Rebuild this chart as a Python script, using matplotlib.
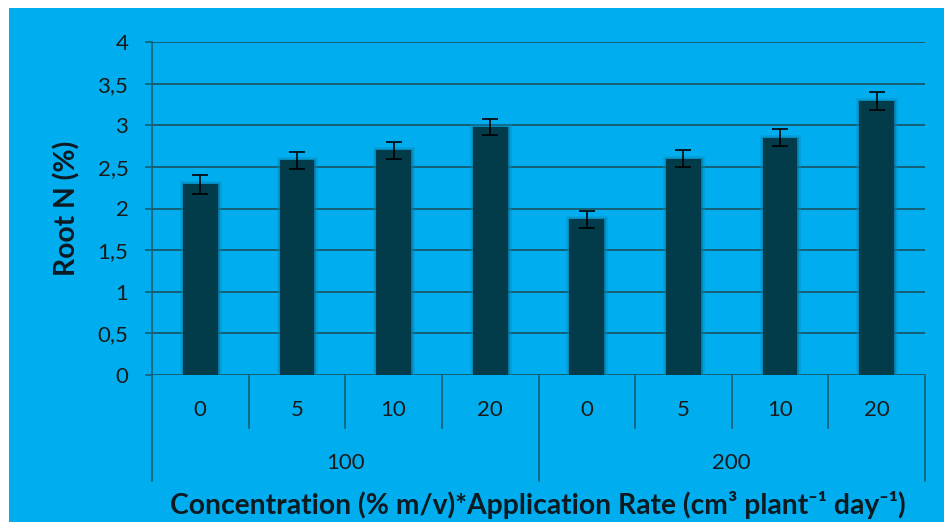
import matplotlib
matplotlib.use("Agg")
import matplotlib.pyplot as plt
import matplotlib.patheffects as pe
import matplotlib.transforms as mtransforms
import numpy as np

groups = ["100", "200"]
rates = ["0", "5", "10", "20"]
values = [2.29, 2.58, 2.70, 2.98, 1.87, 2.60, 2.85, 3.29]
errors = [0.11, 0.10, 0.10, 0.10, 0.10, 0.10, 0.10, 0.11]
ytick_vals = [0, 0.5, 1, 1.5, 2, 2.5, 3, 3.5, 4]
ytick_labels = ["0", "0,5", "1", "1,5", "2", "2,5", "3", "3,5", "4"]
ylabel = "Root N (%)"
xlabel = "Concentration (% m/v)*Application Rate (cm³ plant⁻¹ day⁻¹)"

BLUE = "#00AEEF"
BAR = "#023C4B"
GRID = "#145E74"
TEXT = "#1A1A1A"
FONT = ["Lato", "DejaVu Sans"]
TICK_FS = 16
LABEL_FS = 20.3

plt.rcParams["font.family"] = FONT

fig = plt.figure(figsize=(9.44, 5.22), dpi=100)
fig.patch.set_facecolor("white")
fig.patches.append(plt.Rectangle((9 / 944, 0), 1, 1 - 8 / 522, transform=fig.transFigure,
                                 facecolor=BLUE, edgecolor="none", zorder=-10))

ax = fig.add_axes([152 / 944, 1 - 375 / 522, (925 - 152) / 944, (375 - 42) / 522])
ax.set_facecolor("none")
ax.set_zorder(5)

n = len(values)
x = np.arange(n)
bars = ax.bar(x, values, width=0.36, color=BAR, zorder=3)
for b in bars:
    b.set_path_effects([pe.Stroke(linewidth=5, foreground="#0A8CBE", alpha=0.35),
                        pe.Stroke(linewidth=2.5, foreground="#06739C", alpha=0.5),
                        pe.Normal()])
ax.errorbar(x, values, yerr=errors, fmt="none", ecolor="black", elinewidth=1.2,
            capsize=5.5, capthick=1.2, zorder=4)

ax.set_xlim(-0.5, n - 0.5)
ax.set_ylim(0, 4)
ax.set_yticks(ytick_vals)
ax.set_yticklabels(ytick_labels, fontsize=TICK_FS, color=TEXT)
ax.tick_params(axis="y", length=5, width=1.2, color=GRID, pad=12)
ax.set_xticks([])
ax.yaxis.grid(True, color=GRID, linewidth=1.4, zorder=1)
ax.set_axisbelow(True)
for s in ["top", "right", "bottom"]:
    ax.spines[s].set_visible(False)
ax.spines["left"].set_color(GRID)
ax.spines["left"].set_linewidth(1.2)
ax.spines["left"].set_bounds(0, 4)

trans = mtransforms.blended_transform_factory(ax.transData, ax.transAxes)
lvl1 = -53 / 333
lvl2 = -106 / 333
for xb in [-0.5, 3.5, 7.5]:
    ax.plot([xb, xb], [0, lvl2], transform=trans, color=GRID, lw=1.2, clip_on=False)
for xb in [0.5, 1.5, 2.5, 4.5, 5.5, 6.5]:
    ax.plot([xb, xb], [0, lvl1], transform=trans, color=GRID, lw=1.2, clip_on=False)

for i in range(n):
    ax.text(x[i], -35 / 333, rates[i % len(rates)], transform=trans, ha="center", va="center",
            fontsize=TICK_FS, color=TEXT)
for g, name in enumerate(groups):
    ax.text(g * 4 + 1.5, -88 / 333, name, transform=trans, ha="center", va="center",
            fontsize=TICK_FS, color=TEXT)

fig.text(538 / 944, 1 - 505 / 522, xlabel, ha="center", va="center", fontsize=LABEL_FS,
         fontweight="bold", color="#0D1A22")
fig.text(67 / 944, 1 - 208 / 522, ylabel, ha="center", va="center", rotation=90,
         fontsize=LABEL_FS, fontweight="bold", color="#0D1A22")

fig.savefig("out.png", dpi=100, facecolor="white")
